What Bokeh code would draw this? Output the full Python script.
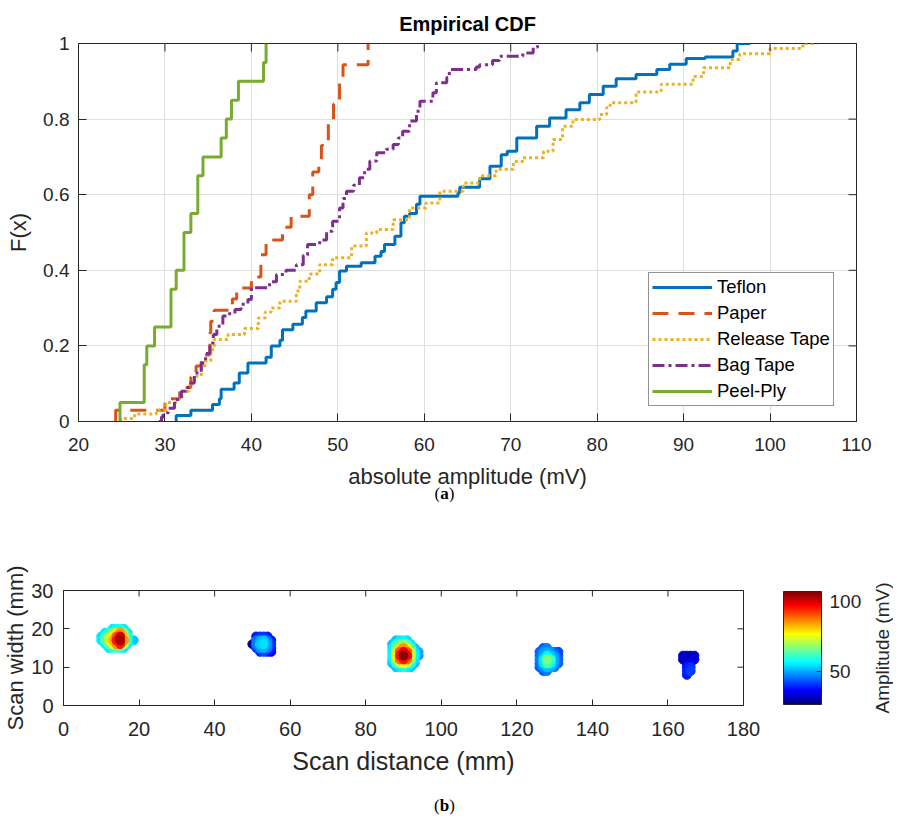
import numpy as np
from math import pi
from bokeh.plotting import figure
from bokeh.models import (ColumnDataSource, FixedTicker, Legend, LegendItem,
                          LinearColorMapper, ColorBar, Div, Range1d)
from bokeh.layouts import column, row
from bokeh.embed import file_html
from bokeh.resources import INLINE

# ---------------- data: empirical CDFs (step corners: amplitude, F after the step)
teflon_amp = [31.3, 31.3, 33.0, 35.5, 36.3, 36.5, 38.0, 38.6, 39.6, 41.7, 42.3, 43.3, 43.6, 44.8, 45.9,
              46.3, 47.5, 48.7, 49.4, 49.8, 50.2, 51.0, 52.7, 54.3, 55.0, 55.4, 56.6, 57.3, 57.7, 58.3,
              59.1, 59.5, 63.9, 64.1, 66.4, 67.6, 68.9, 69.6, 70.7, 73.0, 74.5, 76.4, 78.0, 79.1, 80.7,
              82.2, 84.5, 86.9, 88.4, 90.3, 92.5, 95.7, 96.2, 97.7]
teflon_F = [0.0, 0.016, 0.03, 0.045, 0.06, 0.085, 0.102, 0.128, 0.155, 0.17, 0.2, 0.215, 0.243, 0.257, 0.275,
            0.292, 0.314, 0.33, 0.35, 0.368, 0.398, 0.411, 0.42, 0.437, 0.45, 0.468, 0.49, 0.526, 0.543, 0.55,
            0.575, 0.596, 0.605, 0.62, 0.642, 0.675, 0.706, 0.715, 0.75, 0.781, 0.803, 0.825, 0.843, 0.865, 0.887,
            0.907, 0.918, 0.931, 0.945, 0.96, 0.964, 0.98, 1.0, 1.0]

paper_amp = [24.3, 24.3, 30.0, 31.7, 33.0, 33.6, 34.2, 35.2, 35.3, 35.7, 37.8, 38.3, 40.0, 41.1, 41.7,
             43.6, 44.6, 46.7, 47.1, 47.8, 48.1, 48.9, 49.5, 50.2, 50.6, 53.5]
paper_F = [0.0, 0.03, 0.06, 0.09, 0.118, 0.147, 0.176, 0.235, 0.265, 0.294, 0.324, 0.353, 0.382, 0.441, 0.48,
           0.514, 0.543, 0.60, 0.66, 0.69, 0.73, 0.79, 0.84, 0.91, 0.944, 1.0]

release_amp = [24.9, 24.9, 26.5, 29.0, 30.1, 31.5, 32.0, 32.8, 33.4, 34.2, 34.6, 35.3, 35.7, 37.3, 39.2,
               40.8, 41.6, 42.3, 43.3, 45.2, 45.6, 46.7, 47.9, 49.4, 51.6, 53.3, 54.5, 56.4, 58.3, 60.2,
               61.8, 64.5, 66.4, 68.3, 70.3, 71.4, 73.8, 74.9, 76.0, 77.2, 80.3, 81.1, 81.5, 84.5, 87.4,
               91.1, 92.3, 95.4, 96.5, 100.0, 103.8, 105.5]
release_F = [0.0, 0.008, 0.02, 0.03, 0.05, 0.065, 0.08, 0.10, 0.12, 0.14, 0.16, 0.19, 0.217, 0.23, 0.246,
             0.274, 0.29, 0.30, 0.318, 0.345, 0.371, 0.39, 0.415, 0.433, 0.464, 0.499, 0.508, 0.534, 0.565, 0.578,
             0.609, 0.631, 0.65, 0.667, 0.688, 0.698, 0.715, 0.746, 0.781, 0.799, 0.812, 0.83, 0.843, 0.872, 0.892,
             0.913, 0.936, 0.958, 0.973, 0.987, 1.0, 1.0]

bag_amp = [29.3, 29.6, 29.8, 30.4, 31.1, 31.9, 32.7, 33.4, 34.2, 34.7, 35.2, 35.6, 36.0, 36.7, 37.3,
           38.1, 38.8, 39.6, 40.0, 42.1, 42.9, 44.0, 45.2, 46.0, 46.5, 47.9, 48.7, 49.4, 50.2, 50.6,
           51.0, 51.8, 52.5, 53.1, 53.7, 54.5, 55.6, 56.4, 57.0, 57.5, 58.3, 59.1, 59.5, 61.0, 61.4,
           62.6, 62.9, 66.0, 66.4, 67.9, 68.7, 71.4, 72.6, 73.1]
bag_F = [0.0, 0.012, 0.023, 0.035, 0.058, 0.08, 0.102, 0.128, 0.155, 0.18, 0.208, 0.23, 0.252, 0.279, 0.285,
         0.296, 0.31, 0.323, 0.354, 0.37, 0.389, 0.40, 0.415, 0.44, 0.468, 0.48, 0.503, 0.53, 0.565, 0.59,
         0.609, 0.625, 0.645, 0.667, 0.689, 0.711, 0.72, 0.733, 0.75, 0.768, 0.795, 0.821, 0.847, 0.87, 0.896,
         0.91, 0.931, 0.938, 0.944, 0.955, 0.966, 0.975, 0.99, 1.0]

peel_amp = [24.8, 24.8, 27.6, 27.9, 28.8, 30.7, 31.3, 32.2, 33.0, 33.8, 34.4, 36.5, 37.1, 37.7, 38.5, 41.4, 41.7]
peel_F = [0.0, 0.05, 0.15, 0.20, 0.25, 0.35, 0.40, 0.50, 0.55, 0.65, 0.70, 0.75, 0.80, 0.85, 0.90, 0.95, 1.0]

series_names = ["Teflon", "Paper", "Release Tape", "Bag Tape", "Peel-Ply"]

cdf_x_ticks = [20, 30, 40, 50, 60, 70, 80, 90, 100, 110]
cdf_y_ticks = [0, 0.2, 0.4, 0.6, 0.8, 1]
cdf_y_labels = ["0", "0.2", "0.4", "0.6", "0.8", "1"]

# ---------------- data: C-scan amplitude map (mm grid, mV)
N = None
blob1_x = [10, 11, 12, 13, 14, 15, 16, 17, 18.6]
blob1_y = [20, 19, 18, 17, 16, 15]
blob1_amp = [
    [N, N, N, 55, 57, 58, 55, N, N],
    [N, 55, 58, 64, 78, 85, 66, 55, N],
    [54, 60, 68, 78, 90, 100, 80, 58, N],
    [55, 62, 72, 82, 95, 104, 85, 60, 52],
    [N, 56, 64, 74, 85, 95, 72, 56, N],
    [N, N, 55, 58, 62, 60, 55, N, N],
]
blob2_x = [50, 51, 52, 53, 54, 55]
blob2_y = [18, 17, 16, 15, 14]
blob2_amp = [
    [N, 38, 40, 40, 38, N],
    [N, 45, 50, 52, 45, 38],
    [28, 46, 52, 54, 48, 40],
    [N, 42, 48, 50, 46, 38],
    [N, N, 40, 42, 38, 36],
]
blob3_x = [87, 88, 89, 90, 91, 92, 93, 94]
blob3_y = [17, 16, 15, 14, 13, 12, 11, 10]
blob3_amp = [
    [N, 52, 55, 56, 54, N, N, N],
    [52, 58, 65, 68, 62, 55, N, N],
    [55, 66, 80, 85, 78, 62, 52, N],
    [56, 72, 90, 98, 90, 70, 55, 50],
    [56, 75, 95, 106, 96, 72, 56, 48],
    [55, 70, 88, 95, 88, 66, 54, N],
    [52, 60, 70, 75, 68, 58, 52, N],
    [N, 52, 55, 58, 55, 52, N, N],
]
blob4_x = [126, 127, 128, 129, 130, 131]
blob4_y = [15, 14, 13, 12, 11, 10, 9]
blob4_amp = [
    [N, 44, 46, N, N, N],
    [44, 48, 50, 48, 44, 42],
    [45, 50, 56, 52, 48, 42],
    [46, 55, 66, 60, 50, 44],
    [45, 54, 62, 56, 48, 44],
    [44, 48, 52, 50, 46, N],
    [N, 44, 46, N, N, N],
]
blob5_x = [164, 165, 166, 167]
blob5_y = [13, 12, 11, 10, 9, 8]
blob5_amp = [
    [32, 30, 30, 32],
    [30, 28, 29, 33],
    [N, 34, 36, N],
    [N, 38, 40, N],
    [N, 39, 41, N],
    [N, 38, N, N],
]
amp_low, amp_high = 26, 107
map_x_ticks = [0, 20, 40, 60, 80, 100, 120, 140, 160, 180]
map_y_ticks = [0, 10, 20, 30]
cbar_ticks = [50, 100]

# ---------------- styles
FONT = "Liberation Sans"
AX = "#262626"
colors = ["#0072BD", "#D95319", "#EDB120", "#7E2F8E", "#77AC30"]
dashes = ["solid", "16 10", "3 3", "12 4 3 4", "solid"]


def jet(n=256):
    out = []
    for i in range(n):
        t = i / (n - 1)
        r = min(max(1.5 - abs(4 * t - 3), 0), 1)
        g = min(max(1.5 - abs(4 * t - 2), 0), 1)
        b = min(max(1.5 - abs(4 * t - 1), 0), 1)
        out.append("#%02x%02x%02x" % (int(round(r * 255)), int(round(g * 255)), int(round(b * 255))))
    return out


JET = jet()


def style_axis(ax, tick_fs, label_fs, tick_len):
    ax.axis_line_color = AX
    ax.major_tick_line_color = AX
    ax.major_tick_in = tick_len
    ax.major_tick_out = 0
    ax.minor_tick_line_color = None
    ax.major_label_text_font = FONT
    ax.major_label_text_font_size = tick_fs
    ax.major_label_text_color = AX
    ax.axis_label_text_font = FONT
    ax.axis_label_text_font_size = label_fs
    ax.axis_label_text_font_style = "normal"
    ax.axis_label_text_color = AX


def mirror_ticks(fig, xt, yt, xmax, ymax, size):
    # inward ticks on the top and right edges (half of each dash is clipped by the frame)
    fig.scatter(x=xt, y=[ymax] * len(xt), marker="dash", angle=pi / 2, size=size,
                line_color=AX, line_width=1)
    fig.scatter(x=[xmax] * len(yt), y=yt, marker="dash", size=size, line_color=AX, line_width=1)


# ---------------- top: empirical CDF
p = figure(frame_width=778, frame_height=378, x_range=Range1d(20, 110), y_range=Range1d(0, 1),
           output_backend="svg", toolbar_location=None, title="Empirical CDF",
           min_border_left=78, min_border_right=33, min_border_top=43, min_border_bottom=67)
p.border_fill_color = "white"
p.outline_line_color = AX
p.background_fill_color = "white"
p.title.align = "center"
p.title.text_font = FONT
p.title.text_font_size = "20px"
p.title.text_font_style = "bold"
p.title.text_color = "#000000"
p.title.standoff = 18

p.xaxis.ticker = FixedTicker(ticks=cdf_x_ticks)
p.yaxis.ticker = FixedTicker(ticks=cdf_y_ticks)
p.yaxis.major_label_overrides = {t: l for t, l in zip(cdf_y_ticks, cdf_y_labels)}
style_axis(p.xaxis[0], "19px", "22px", 8)
style_axis(p.yaxis[0], "19px", "22px", 8)
p.xaxis.axis_label = "absolute amplitude (mV)"
p.yaxis.axis_label = "F(x)"
p.xaxis.major_label_standoff = 16
p.xaxis.axis_label_standoff = 10
p.yaxis.major_label_standoff = 9
p.yaxis.axis_label_standoff = 9
p.xgrid.grid_line_color = "#dfdfdf"
p.ygrid.grid_line_color = "#dfdfdf"
p.xgrid.ticker = FixedTicker(ticks=cdf_x_ticks)
p.ygrid.ticker = FixedTicker(ticks=cdf_y_ticks)

all_amp = [teflon_amp, paper_amp, release_amp, bag_amp, peel_amp]
all_F = [teflon_F, paper_F, release_F, bag_F, peel_F]
items = []
for name, xs, fs, c, d in zip(series_names, all_amp, all_F, colors, dashes):
    r = p.step(x=xs, y=fs, mode="after", line_color=c, line_width=3, line_dash=d)
    items.append(LegendItem(label=name, renderers=[r]))
mirror_ticks(p, cdf_x_ticks, cdf_y_ticks, 110, 1, 16)

leg = Legend(items=items, location=(570, 15))
leg.border_line_color = AX
leg.border_line_width = 1
leg.background_fill_color = "white"
leg.background_fill_alpha = 1
leg.label_text_font = FONT
leg.label_text_font_size = "18.5px"
leg.label_text_color = "#000000"
leg.glyph_width = 60
leg.glyph_height = 20
leg.label_height = 20
leg.spacing = 4
leg.padding = 3
leg.margin = 0
leg.label_standoff = 5
p.add_layout(leg)

div_a = Div(text="(<b>a</b>)", width=889, height=10, margin=(0, 0, 0, 0),
            styles={"text-align": "center", "font-family": "Liberation Serif", "font-size": "17px",
                    "line-height": "6px", "color": "#000", "width": "889px"})

# ---------------- bottom: amplitude map
px, py, pa = [], [], []
for bx, by, ba in [(blob1_x, blob1_y, blob1_amp), (blob2_x, blob2_y, blob2_amp),
                   (blob3_x, blob3_y, blob3_amp), (blob4_x, blob4_y, blob4_amp),
                   (blob5_x, blob5_y, blob5_amp)]:
    for j, yy in enumerate(by):
        for i, xx in enumerate(bx):
            v = ba[j][i]
            if v is not None:
                px.append(xx)
                py.append(yy)
                pa.append(v)
order = np.argsort(pa, kind="stable")
src = ColumnDataSource(dict(x=[px[k] for k in order], y=[py[k] for k in order], amp=[pa[k] for k in order]))

mapper = LinearColorMapper(palette=JET, low=amp_low, high=amp_high)

q = figure(frame_width=680, frame_height=115, x_range=Range1d(0, 180), y_range=Range1d(0, 30),
           output_backend="svg", toolbar_location=None,
           min_border_left=62, min_border_right=125, min_border_top=89, min_border_bottom=86)
q.border_fill_color = "white"
q.grid.visible = False
q.outline_line_color = AX
q.scatter(x="x", y="y", source=src, size=9, marker="circle",
          fill_color={"field": "amp", "transform": mapper},
          line_color={"field": "amp", "transform": mapper})
mirror_ticks(q, map_x_ticks, map_y_ticks, 180, 30, 12)

q.xaxis.ticker = FixedTicker(ticks=map_x_ticks)
q.yaxis.ticker = FixedTicker(ticks=map_y_ticks)
style_axis(q.xaxis[0], "20px", "25px", 6)
style_axis(q.yaxis[0], "20px", "22px", 6)
q.xaxis.axis_label = "Scan distance (mm)"
q.yaxis.axis_label = "Scan width (mm)"
q.xaxis.major_label_standoff = 16
q.xaxis.axis_label_standoff = 8
q.yaxis.major_label_standoff = 10
q.yaxis.axis_label_standoff = 0

cb = ColorBar(color_mapper=mapper, ticker=FixedTicker(ticks=cbar_ticks), width=38, height=113,
              location=(720, 1), padding=0, margin=0, label_standoff=8,
              major_label_text_font=FONT, major_label_text_font_size="19px",
              major_label_text_color=AX, bar_line_color=AX, major_tick_line_color=AX,
              major_tick_in=5, minor_tick_line_color=None,
              background_fill_alpha=0, border_line_color=None)
q.add_layout(cb)

# colour-bar caption: a slim companion plot whose left-axis label reads bottom-to-top
lab = figure(frame_width=1, frame_height=115, x_range=Range1d(0, 1), y_range=Range1d(0, 1),
             output_backend="svg", toolbar_location=None,
             min_border_left=24, min_border_right=0, min_border_top=89, min_border_bottom=86)
lab.outline_line_color = None
lab.background_fill_alpha = 0
lab.border_fill_alpha = 0
lab.grid.visible = False
lab.xaxis.visible = False
lab.yaxis.ticker = FixedTicker(ticks=[])
lab.yaxis.axis_line_color = None
lab.yaxis.major_tick_line_color = None
lab.yaxis.minor_tick_line_color = None
lab.yaxis.axis_label = "Amplitude (mV)"
lab.yaxis.axis_label_standoff = 0
lab.yaxis.axis_label_text_font = FONT
lab.yaxis.axis_label_text_font_size = "19px"
lab.yaxis.axis_label_text_font_style = "normal"
lab.yaxis.axis_label_text_color = AX

div_b = Div(text="(<b>b</b>)", width=889, height=30, margin=(0, 0, 0, 0),
            styles={"text-align": "center", "font-family": "Liberation Serif", "font-size": "17px",
                    "line-height": "30px", "color": "#000", "width": "889px"})

root1 = column(p, div_a, spacing=0)
root2 = column(row(q, lab, spacing=0), div_b, spacing=0)
open("out.html", "w").write(file_html([root1, root2], INLINE))
